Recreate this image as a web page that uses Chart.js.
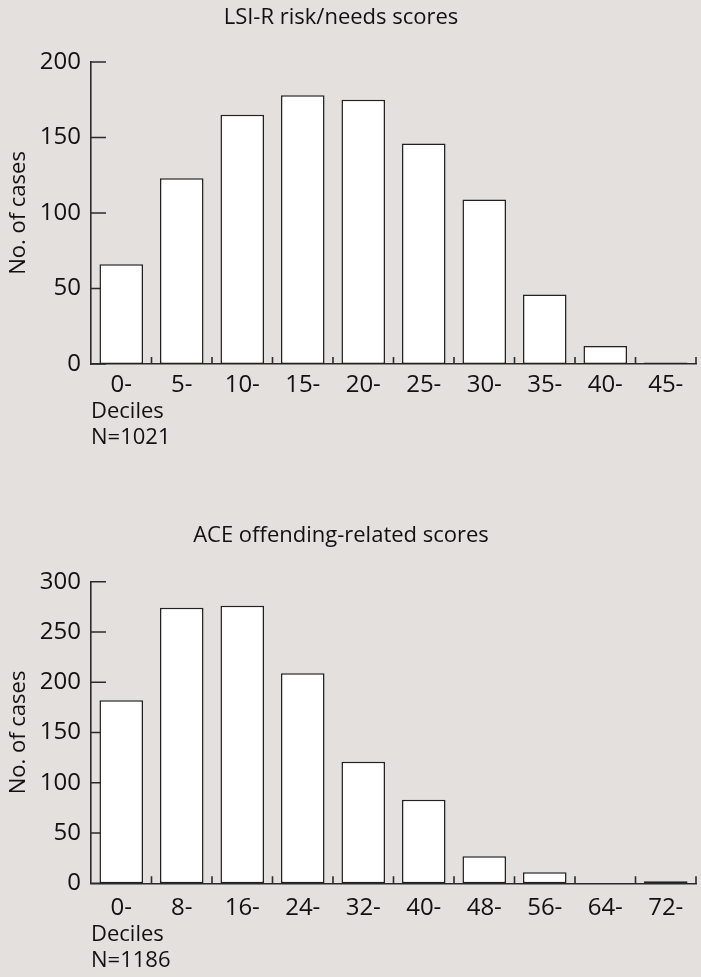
<!DOCTYPE html>
<html>
<head>
<meta charset="utf-8">
<script src="https://cdn.jsdelivr.net/npm/chart.js@4.4.1/dist/chart.umd.min.js"></script>
<style>
  html, body { margin: 0; padding: 0; background: #e3e0dd; }
  canvas { display: block; }
</style>
</head>
<body>
<canvas id="lsiChart" width="701" height="452"></canvas>
<canvas id="aceChart" width="701" height="525"></canvas>
<script>
// LSI-R score bands and counts
const lsiLabels = ['0-', '5-', '10-', '15-', '20-', '25-', '30-', '35-', '40-', '45-'];
const lsiCounts = [66, 123, 165, 178, 175, 146, 109, 46, 12, 1];
const lsiMax = 200;
const lsiNote = ['Deciles', 'N=1021'];

// ACE score bands and counts
const aceLabels = ['0-', '8-', '16-', '24-', '32-', '40-', '48-', '56-', '64-', '72-'];
const aceCounts = [182, 274, 276, 209, 121, 83, 27, 11, 0, 2];
const aceMax = 300;
const aceNote = ['Deciles', 'N=1186'];

const yStep = 50;
const ink = '#111111';
const lineInk = '#2b2b2b';

// ticks are drawn inside the plot: y ticks point right, x ticks point up between bands
const innerTicks = {
  id: 'innerTicks',
  beforeDatasetsDraw(chart, args, opts) {
    const { ctx, chartArea, scales: { x, y } } = chart;
    ctx.save();
    ctx.strokeStyle = opts.color;
    ctx.lineWidth = opts.width;
    ctx.beginPath();
    y.ticks.forEach((t) => {
      const py = y.getPixelForValue(t.value);
      ctx.moveTo(chartArea.left, py);
      ctx.lineTo(chartArea.left + opts.yLength, py);
    });
    const band = x.getPixelForValue(1) - x.getPixelForValue(0);
    for (let i = 0; i < x.ticks.length; i++) {
      const px = x.getPixelForValue(i) + band / 2;
      ctx.moveTo(px, chartArea.bottom);
      ctx.lineTo(px, chartArea.bottom - opts.xLength);
    }
    ctx.stroke();
    ctx.restore();
  }
};

// heading text above each chart
const headTitle = {
  id: 'headTitle',
  afterDraw(chart, args, opts) {
    const { ctx } = chart;
    ctx.save();
    ctx.font = opts.font;
    ctx.fillStyle = opts.color;
    ctx.textAlign = 'center';
    ctx.textBaseline = 'alphabetic';
    ctx.fillText(opts.text, opts.x, opts.y);
    ctx.restore();
  }
};

function makeChart(canvasId, title, labels, counts, yMax, note, frame) {
  return new Chart(document.getElementById(canvasId), {
    type: 'bar',
    data: {
      labels,
      datasets: [
        {
          data: counts,
          backgroundColor: '#ffffff',
          borderColor: '#222222',
          borderWidth: 1.5,
          borderSkipped: false,
          categoryPercentage: 1,
          barPercentage: 0.72
        }
      ]
    },
    options: {
      responsive: false,
      animation: false,
      devicePixelRatio: 1,
      layout: { padding: { top: frame.top, right: 5, bottom: 0, left: 0 } },
      plugins: {
        legend: { display: false },
        tooltip: { enabled: false },
        innerTicks: { color: lineInk, width: 1.6, yLength: 15, xLength: 7 },
        headTitle: {
          text: title,
          x: 341,
          y: frame.titleY,
          font: '22px "Open Sans"',
          color: ink
        }
      },
      scales: {
        x: {
          grid: { display: false, drawTicks: false },
          border: { display: true, color: lineInk, width: 1.6 },
          ticks: {
            color: ink,
            padding: frame.xPad,
            font: { family: 'Open Sans', size: 24 }
          },
          title: {
            display: true,
            text: note,
            align: 'start',
            color: ink,
            padding: { top: 0, bottom: frame.notePad },
            font: { family: 'Open Sans', size: 22, lineHeight: 1.18 }
          },
          afterFit(scale) {
            scale.height = frame.xHeight;
          }
        },
        y: {
          min: 0,
          max: yMax,
          grid: { display: false, drawTicks: false },
          border: { display: true, color: lineInk, width: 1.6 },
          ticks: {
            stepSize: yStep,
            color: ink,
            padding: 10,
            font: { family: 'Open Sans', size: 24 }
          },
          title: {
            display: true,
            text: 'No. of cases',
            color: ink,
            padding: { top: 6, bottom: 0 },
            font: { family: 'Open Sans', size: 22, lineHeight: 1.18 }
          },
          afterFit(scale) {
            scale.width = 91;
          }
        }
      }
    },
    plugins: [innerTicks, headTitle]
  });
}

makeChart('lsiChart', 'LSI-R risk/needs scores', lsiLabels, lsiCounts, lsiMax, lsiNote,
  { titleY: 24, top: 62, xHeight: 88, xPad: 7, notePad: 1.3 });

makeChart('aceChart', 'ACE offending-related scores', aceLabels, aceCounts, aceMax, aceNote,
  { titleY: 90, top: 129.7, xHeight: 93.7, xPad: 10.5, notePad: 3.3 });
</script>
</body>
</html>
